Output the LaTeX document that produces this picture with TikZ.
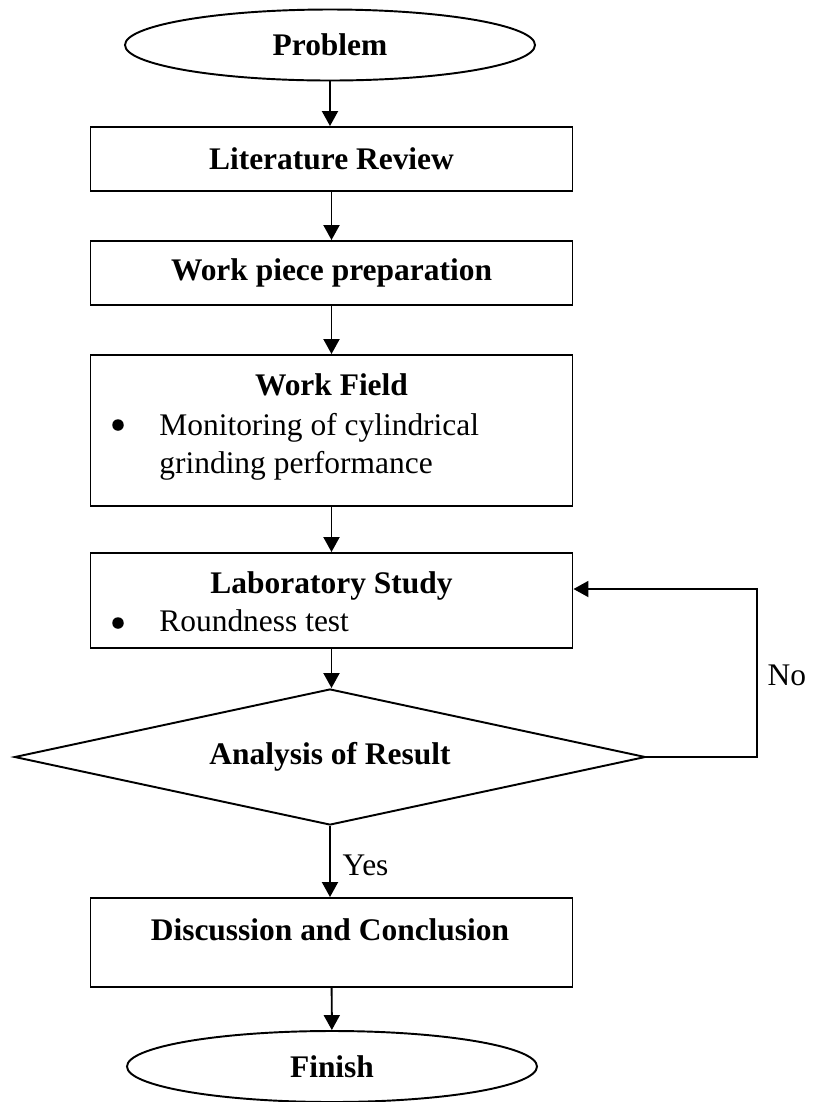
\documentclass[tikz,border=0pt]{standalone}
\usepackage{fontspec}
\setmainfont{Liberation Serif}
\usetikzlibrary{shapes.geometric,arrows.meta,calc,positioning}

\begin{document}
\begin{tikzpicture}[
		font=\fontsize{17.9}{22}\selectfont,
		term/.style={draw, ellipse, line width=1.1pt, minimum width=8.2cm, minimum height=1.42cm, inner sep=0pt, font=\fontsize{17.9}{22}\selectfont\bfseries},
		box/.style={draw, line width=1.1pt, minimum width=9.64cm, inner sep=0pt},
		txt/.style={inner sep=0pt, anchor=base west},
		dot/.style={circle, fill, inner sep=0pt, minimum size=0.23cm},
		link/.style={line width=1.1pt, -{Triangle[length=0.3cm, width=0.32cm]}}
	]
			\useasboundingbox (0,0) rectangle (16.24,-22.04);
			% start and steps
			\node[term] (prob) at (6.6,-0.9) {Problem};
			\node[box, minimum height=1.28cm, font=\fontsize{17.9}{22}\selectfont\bfseries] (lit) at (6.63,-3.18) {Literature Review};
			\node[box, minimum height=1.28cm, font=\fontsize{17.9}{22}\selectfont\bfseries] (wp) at (6.63,-5.46) {Work piece preparation};
			\node[box, minimum height=3.02cm] (wf) at (6.63,-8.61) {};
			\node[box, minimum height=1.9cm] (lab) at (6.63,-12.01) {};
			\node[draw, diamond, aspect=4.64, line width=1.1pt, minimum width=12.62cm, minimum height=2.72cm, inner sep=0pt, font=\fontsize{17.9}{22}\selectfont\bfseries] (ana) at (6.6,-15.14) {Analysis of Result};
			\node[box, minimum height=1.78cm] (disc) at (6.63,-18.85) {};
			\node[term] (fin) at (6.64,-21.33) {Finish};
			% texts in the boxes
			\node[inner sep=0pt, anchor=base] (wftitle) at (6.63,-7.9) {\bfseries Work Field};
			\node[dot] (wfdot) at (2.36,-8.5) {};
			\node[txt] (wfline1) at (3.18,-8.7) {Monitoring of cylindrical};
			\node[txt] (wfline2) at (3.18,-9.46) {grinding performance};
			\node[inner sep=0pt, anchor=base] (labtitle) at (6.63,-11.86) {\bfseries Laboratory Study};
			\node[dot] (labdot) at (2.36,-12.46) {};
			\node[txt] (labline) at (3.18,-12.62) {Roundness test};
			\node[inner sep=0pt, anchor=base] (disctitle) at (6.6,-18.8) {\bfseries Discussion and Conclusion};
			% connectors
			\draw[link] (prob.south) -- (prob.south |- lit.north);
			\draw[link] (lit) -- (wp);
			\draw[link] (wp) -- (wf);
			\draw[link] (wf) -- (lab);
			\draw[link] (lab.south) -- (lab.south |- ana.north);
			\draw[link] (ana.south) -- (ana.south |- disc.north);
			\draw[link] (disc) -- (fin);
			\coordinate (back) at (15.14,-11.78);
			\draw[link] (ana.east) -| (back) -- (back -| lab.east);
			\node[anchor=west] (no) at (15.23,-13.5) {No};
			\node[anchor=west] (yes) at (6.73,-17.3) {Yes};
		\end{tikzpicture}
\end{document}
